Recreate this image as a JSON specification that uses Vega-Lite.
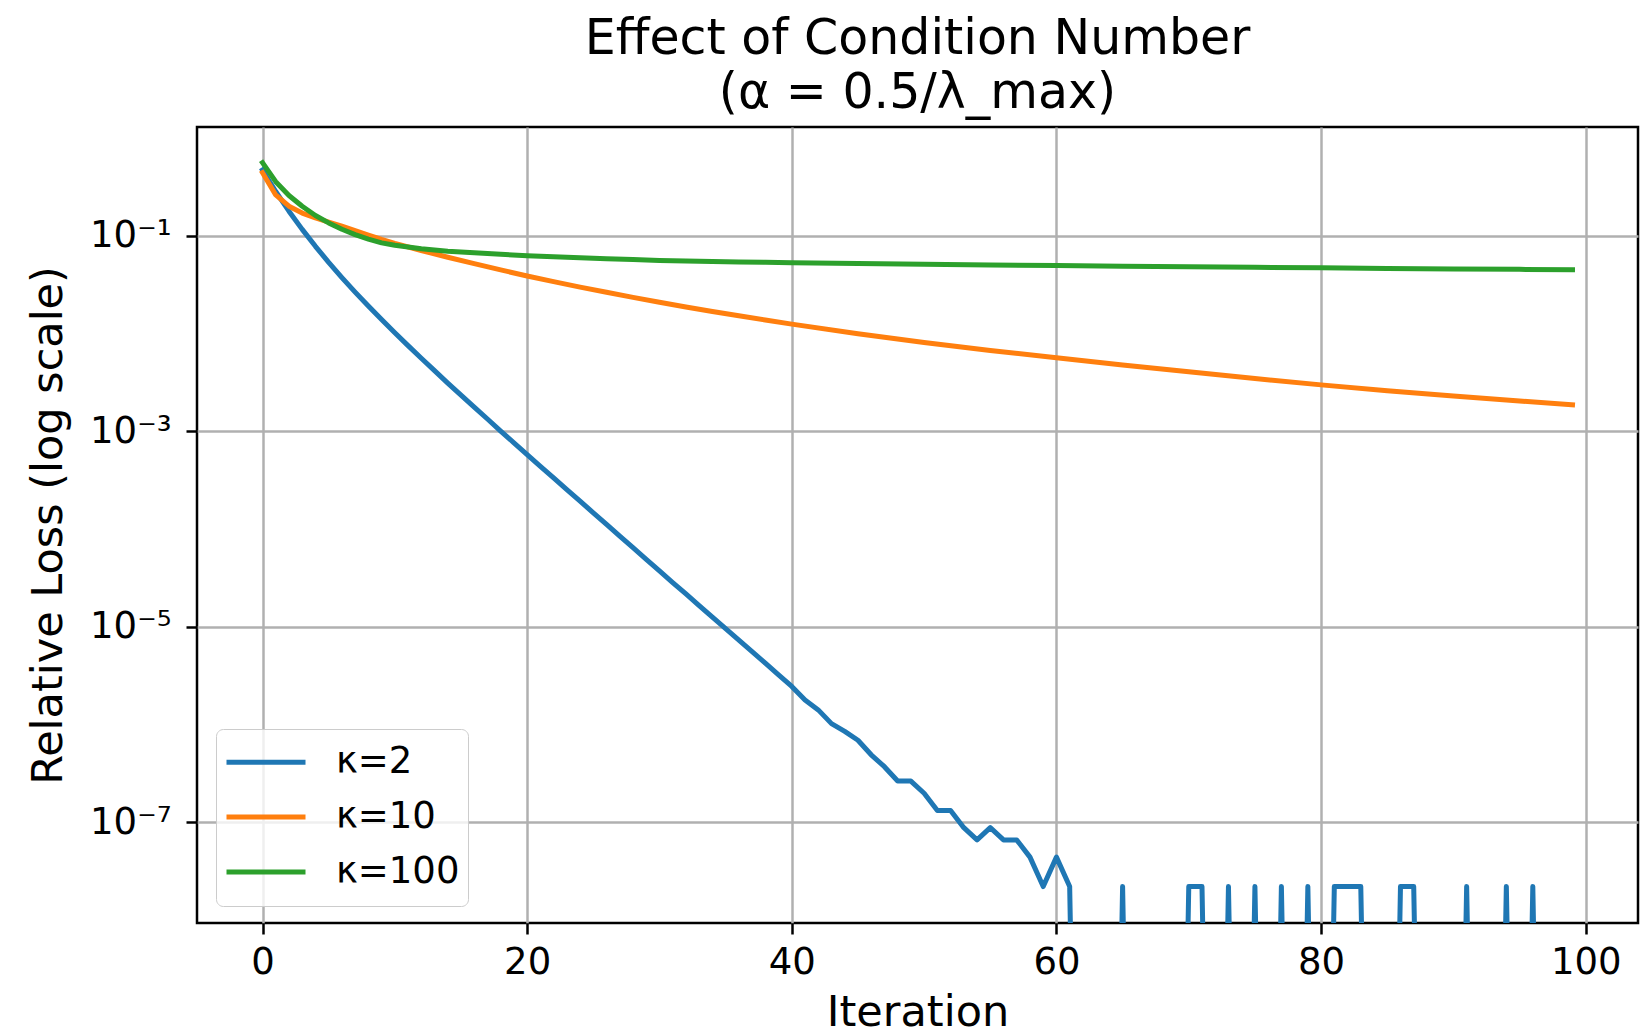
{
  "$schema": "https://vega.github.io/schema/vega-lite/v6.json",
  "width": 1441,
  "height": 796,
  "autosize": {"type": "none"},
  "padding": {"left": 197, "top": 127, "right": 2, "bottom": 108},
  "background": "white",
  "title": {
    "text": ["Effect of Condition Number", "(α = 0.5/λ_max)"],
    "font": "DejaVu Sans",
    "fontSize": 49,
    "fontWeight": "normal",
    "color": "black",
    "lineHeight": 54.5,
    "anchor": "middle",
    "offset": 9
  },
  "datasets": {
    "k2": [
      {"iter": 0, "loss": 0.468}, {"iter": 1, "loss": 0.282}, {"iter": 2, "loss": 0.1774}, {"iter": 3, "loss": 0.1156},
      {"iter": 4, "loss": 0.0776}, {"iter": 5, "loss": 0.0532}, {"iter": 6, "loss": 0.0372}, {"iter": 7, "loss": 0.0264},
      {"iter": 8, "loss": 0.019}, {"iter": 9, "loss": 0.01384}, {"iter": 10, "loss": 0.01014}, {"iter": 11, "loss": 0.00748},
      {"iter": 12, "loss": 0.00556}, {"iter": 13, "loss": 0.00415}, {"iter": 14, "loss": 0.0031}, {"iter": 15, "loss": 0.00233},
      {"iter": 16, "loss": 0.00176}, {"iter": 17, "loss": 0.00133}, {"iter": 18, "loss": 0.001002}, {"iter": 19, "loss": 0.00076},
      {"iter": 20, "loss": 0.000575}, {"iter": 21, "loss": 0.000437}, {"iter": 22, "loss": 0.000332}, {"iter": 23, "loss": 0.000252},
      {"iter": 24, "loss": 0.000192}, {"iter": 25, "loss": 0.000146}, {"iter": 26, "loss": 0.000111}, {"iter": 27, "loss": 8.43e-5},
      {"iter": 28, "loss": 6.43e-5}, {"iter": 29, "loss": 4.89e-5}, {"iter": 30, "loss": 3.72e-5}, {"iter": 31, "loss": 2.83e-5},
      {"iter": 32, "loss": 2.16e-5}, {"iter": 33, "loss": 1.64e-5}, {"iter": 34, "loss": 1.25e-5}, {"iter": 35, "loss": 9.55e-6},
      {"iter": 36, "loss": 7.28e-6}, {"iter": 37, "loss": 5.55e-6}, {"iter": 38, "loss": 4.23e-6}, {"iter": 39, "loss": 3.22e-6},
      {"iter": 40, "loss": 2.45e-6}, {"iter": 41, "loss": 1.78e-6}, {"iter": 42, "loss": 1.41e-6}, {"iter": 43, "loss": 1.02e-6},
      {"iter": 44, "loss": 8.5e-7}, {"iter": 45, "loss": 6.9e-7}, {"iter": 46, "loss": 4.9e-7}, {"iter": 47, "loss": 3.7e-7},
      {"iter": 48, "loss": 2.64e-7}, {"iter": 49, "loss": 2.64e-7}, {"iter": 50, "loss": 1.98e-7}, {"iter": 51, "loss": 1.32e-7},
      {"iter": 52, "loss": 1.32e-7}, {"iter": 53, "loss": 8.8e-8}, {"iter": 54, "loss": 6.6e-8}, {"iter": 55, "loss": 8.8e-8},
      {"iter": 56, "loss": 6.6e-8}, {"iter": 57, "loss": 6.6e-8}, {"iter": 58, "loss": 4.4e-8}, {"iter": 59, "loss": 2.2e-8},
      {"iter": 60, "loss": 4.4e-8}, {"iter": 61, "loss": 2.2e-8}, {"iter": 62, "loss": 1e-15}, {"iter": 63, "loss": 1e-15},
      {"iter": 64, "loss": 1e-15}, {"iter": 65, "loss": 2.2e-8}, {"iter": 66, "loss": 1e-15}, {"iter": 67, "loss": 1e-15},
      {"iter": 68, "loss": 1e-15}, {"iter": 69, "loss": 1e-15}, {"iter": 70, "loss": 2.2e-8}, {"iter": 71, "loss": 2.2e-8},
      {"iter": 72, "loss": 1e-15}, {"iter": 73, "loss": 2.2e-8}, {"iter": 74, "loss": 1e-15}, {"iter": 75, "loss": 2.2e-8},
      {"iter": 76, "loss": 1e-15}, {"iter": 77, "loss": 2.2e-8}, {"iter": 78, "loss": 1e-15}, {"iter": 79, "loss": 2.2e-8},
      {"iter": 80, "loss": 1e-15}, {"iter": 81, "loss": 2.2e-8}, {"iter": 82, "loss": 2.2e-8}, {"iter": 83, "loss": 2.2e-8},
      {"iter": 84, "loss": 1e-15}, {"iter": 85, "loss": 1e-15}, {"iter": 86, "loss": 2.2e-8}, {"iter": 87, "loss": 2.2e-8},
      {"iter": 88, "loss": 1e-15}, {"iter": 89, "loss": 1e-15}, {"iter": 90, "loss": 1e-15}, {"iter": 91, "loss": 2.2e-8},
      {"iter": 92, "loss": 1e-15}, {"iter": 93, "loss": 1e-15}, {"iter": 94, "loss": 2.2e-8}, {"iter": 95, "loss": 1e-15},
      {"iter": 96, "loss": 2.2e-8}, {"iter": 97, "loss": 1e-15}, {"iter": 98, "loss": 1e-15}, {"iter": 99, "loss": 1e-15}
    ],
    "k10": [
      {"iter": 0, "loss": 0.4395}, {"iter": 1, "loss": 0.26}, {"iter": 2, "loss": 0.1995}, {"iter": 3, "loss": 0.1698},
      {"iter": 4, "loss": 0.1514}, {"iter": 5, "loss": 0.1374}, {"iter": 6, "loss": 0.1245}, {"iter": 7, "loss": 0.1122},
      {"iter": 8, "loss": 0.1012}, {"iter": 9, "loss": 0.0912}, {"iter": 10, "loss": 0.0832}, {"iter": 12, "loss": 0.0703},
      {"iter": 14, "loss": 0.06}, {"iter": 16, "loss": 0.0516}, {"iter": 18, "loss": 0.0445}, {"iter": 20, "loss": 0.0386},
      {"iter": 22, "loss": 0.0338}, {"iter": 24, "loss": 0.0297}, {"iter": 26, "loss": 0.0263}, {"iter": 28, "loss": 0.0233},
      {"iter": 30, "loss": 0.0208}, {"iter": 32, "loss": 0.01862}, {"iter": 34, "loss": 0.01675}, {"iter": 36, "loss": 0.01514},
      {"iter": 38, "loss": 0.01368}, {"iter": 40, "loss": 0.01242}, {"iter": 45, "loss": 0.00992}, {"iter": 50, "loss": 0.00806},
      {"iter": 55, "loss": 0.00667}, {"iter": 60, "loss": 0.00564}, {"iter": 65, "loss": 0.00475}, {"iter": 70, "loss": 0.00404},
      {"iter": 75, "loss": 0.00345}, {"iter": 80, "loss": 0.00297}, {"iter": 85, "loss": 0.00259}, {"iter": 90, "loss": 0.00229},
      {"iter": 95, "loss": 0.00203}, {"iter": 99, "loss": 0.00186}
    ],
    "k100": [
      {"iter": 0, "loss": 0.556}, {"iter": 1, "loss": 0.3556}, {"iter": 2, "loss": 0.257}, {"iter": 3, "loss": 0.1995},
      {"iter": 4, "loss": 0.1603}, {"iter": 5, "loss": 0.1346}, {"iter": 6, "loss": 0.1159}, {"iter": 7, "loss": 0.1023},
      {"iter": 8, "loss": 0.092}, {"iter": 9, "loss": 0.0841}, {"iter": 10, "loss": 0.0794}, {"iter": 12, "loss": 0.0731},
      {"iter": 14, "loss": 0.0692}, {"iter": 16, "loss": 0.0665}, {"iter": 18, "loss": 0.0643}, {"iter": 20, "loss": 0.0622},
      {"iter": 22, "loss": 0.0607}, {"iter": 24, "loss": 0.0593}, {"iter": 26, "loss": 0.0579}, {"iter": 28, "loss": 0.0568},
      {"iter": 30, "loss": 0.0557}, {"iter": 32, "loss": 0.055}, {"iter": 34, "loss": 0.0543}, {"iter": 36, "loss": 0.0537},
      {"iter": 38, "loss": 0.0532}, {"iter": 40, "loss": 0.0528}, {"iter": 45, "loss": 0.0519}, {"iter": 50, "loss": 0.0509},
      {"iter": 55, "loss": 0.0501}, {"iter": 60, "loss": 0.0493}, {"iter": 65, "loss": 0.0486}, {"iter": 70, "loss": 0.048},
      {"iter": 75, "loss": 0.0473}, {"iter": 80, "loss": 0.0468}, {"iter": 85, "loss": 0.0461}, {"iter": 90, "loss": 0.0456},
      {"iter": 95, "loss": 0.0451}, {"iter": 99, "loss": 0.0447}
    ]
  },
  "layer": [
    {
      "data": {"name": "k2"},
      "transform": [{"calculate": "'κ=2'", "as": "series"}],
      "mark": {"type": "line", "strokeWidth": 5, "clip": true, "strokeJoin": "round", "strokeCap": "square"},
      "encoding": {
        "x": {"field": "iter", "type": "quantitative"},
        "y": {"field": "loss", "type": "quantitative"},
        "color": {"field": "series", "type": "nominal"}
      }
    },
    {
      "data": {"name": "k10"},
      "transform": [{"calculate": "'κ=10'", "as": "series"}],
      "mark": {"type": "line", "strokeWidth": 5, "clip": true, "strokeJoin": "round", "strokeCap": "square"},
      "encoding": {
        "x": {"field": "iter", "type": "quantitative"},
        "y": {"field": "loss", "type": "quantitative"},
        "color": {"field": "series", "type": "nominal"}
      }
    },
    {
      "data": {"name": "k100"},
      "transform": [{"calculate": "'κ=100'", "as": "series"}],
      "mark": {"type": "line", "strokeWidth": 5, "clip": true, "strokeJoin": "round", "strokeCap": "square"},
      "encoding": {
        "x": {"field": "iter", "type": "quantitative"},
        "y": {"field": "loss", "type": "quantitative"},
        "color": {"field": "series", "type": "nominal"}
      }
    }
  ],
  "encoding": {
    "x": {
      "field": "iter",
      "type": "quantitative",
      "scale": {"domain": [-4.95, 103.95], "nice": false, "zero": false},
      "axis": {
        "title": "Iteration",
        "values": [0, 20, 40, 60, 80, 100],
        "titlePadding": 11,
        "labelPadding": 10
      }
    },
    "y": {
      "field": "loss",
      "type": "quantitative",
      "scale": {"type": "log", "domain": [9.33e-9, 1.288], "nice": false},
      "axis": {
        "title": "Relative Loss (log scale)",
        "values": [0.1, 0.001, 0.00001, 0.0000001],
        "labelExpr": "round(log(datum.value)/LN10) == -1 ? '10⁻¹' : round(log(datum.value)/LN10) == -3 ? '10⁻³' : round(log(datum.value)/LN10) == -5 ? '10⁻⁵' : '10⁻⁷'",
        "labelPadding": 15,
        "titlePadding": 19
      }
    },
    "color": {
      "field": "series",
      "type": "nominal",
      "scale": {"domain": ["κ=2", "κ=10", "κ=100"], "range": ["#1f77b4", "#ff7f0e", "#2ca02c"]},
      "legend": {
        "title": null,
        "orient": "none",
        "legendX": 19,
        "legendY": 602,
        "symbolType": "stroke",
        "symbolSize": 6241,
        "symbolStrokeWidth": 5,
        "symbolOffset": 0,
        "labelFontSize": 37,
        "labelFont": "DejaVu Sans",
        "labelColor": "black",
        "labelOffset": 28,
        "fillColor": "rgba(255,255,255,0.8)",
        "strokeColor": "#cccccc",
        "cornerRadius": 7,
        "padding": 8,
        "clipHeight": 50.6,
        "rowPadding": 3.8
      }
    }
  },
  "config": {
    "font": "DejaVu Sans",
    "view": {"stroke": "black", "strokeWidth": 2.5},
    "axis": {
      "domain": false,
      "grid": true,
      "gridColor": "#b0b0b0",
      "gridWidth": 2.5,
      "ticks": true,
      "tickColor": "black",
      "tickWidth": 2.5,
      "tickSize": 11,
      "labelFont": "DejaVu Sans",
      "labelFontSize": 37,
      "labelColor": "black",
      "titleFont": "DejaVu Sans",
      "titleFontSize": 43,
      "titleFontWeight": "normal",
      "titleColor": "black",
      "labelFlush": false,
      "labelOverlap": false
    }
  }
}
